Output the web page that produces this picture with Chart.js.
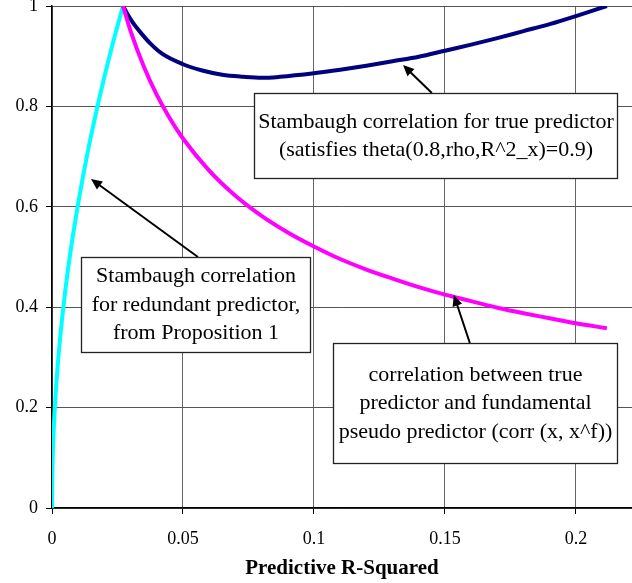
<!DOCTYPE html>
<html>
<head>
<meta charset="utf-8">
<script src="https://cdn.jsdelivr.net/npm/chart.js@4.4.0/dist/chart.umd.min.js"></script>
<style>
  body { margin: 0; background: #fff; }
  #chart { display: block; }
</style>
</head>
<body>
<canvas id="chart" width="632" height="583"></canvas>
<script>
// Stambaugh correlation for redundant predictor (cyan)
const redundantX = [0, 0.0002, 0.0005, 0.001, 0.002, 0.003, 0.004, 0.005, 0.0065, 0.008, 0.01, 0.012, 0.014, 0.016, 0.018, 0.02, 0.022, 0.024, 0.026, 0.0271];
const redundantY = [0, 0.086, 0.136, 0.192, 0.272, 0.333, 0.384, 0.430, 0.490, 0.543, 0.607, 0.665, 0.719, 0.768, 0.815, 0.859, 0.901, 0.941, 0.979, 1];

// corr(x, x^f) (magenta)
const pseudoX = [0.0271, 0.03, 0.035, 0.04, 0.045, 0.05, 0.06, 0.07, 0.08, 0.09, 0.1, 0.11, 0.12, 0.13, 0.14, 0.15, 0.16, 0.17, 0.18, 0.19, 0.2, 0.2118];
const pseudoY = [1, 0.950, 0.880, 0.823, 0.776, 0.736, 0.672, 0.622, 0.582, 0.549, 0.521, 0.496, 0.475, 0.457, 0.440, 0.425, 0.412, 0.399, 0.388, 0.378, 0.368, 0.358];

// Stambaugh correlation for true predictor (navy)
const trueX = [0.0271, 0.029, 0.031, 0.034, 0.0374, 0.042, 0.05, 0.057, 0.065, 0.073, 0.08, 0.087, 0.1, 0.11, 0.12, 0.13, 0.14, 0.15, 0.16, 0.17, 0.18, 0.19, 0.2, 0.2118];
const trueY = [1, 0.982, 0.966, 0.946, 0.926, 0.905, 0.884, 0.872, 0.863, 0.859, 0.857, 0.859, 0.866, 0.873, 0.881, 0.890, 0.899, 0.911, 0.923, 0.936, 0.950, 0.964, 0.980, 1];

const xTicks = [0, 0.05, 0.1, 0.15, 0.2];
const yTicks = [0, 0.2, 0.4, 0.6, 0.8, 1];

const toPoints = (xs, ys) => xs.map((x, i) => ({ x: x, y: ys[i] }));

// text boxes with arrows, given in data units
const notes = [
  {
    box: [0.0771, 0.8267, 0.2156, 0.657],
    lines: ['Stambaugh correlation for true predictor', '(satisfies theta(0.8,rho,R^2_x)=0.9)'],
    from: [0.1450, 0.8267], to: [0.1340, 0.8825]
  },
  {
    box: [0.0111, 0.5, 0.0985, 0.3108],
    lines: ['Stambaugh correlation', 'for redundant predictor,', 'from Proposition 1'],
    from: [0.0557, 0.5], to: [0.01489, 0.6554]
  },
  {
    box: [0.1073, 0.3287, 0.2156, 0.0896],
    lines: ['correlation between true', 'predictor and fundamental', 'pseudo predictor (corr (x, x^f))'],
    from: [0.1595, 0.3287], to: [0.1534, 0.4243]
  }
];

const notesPlugin = {
  id: 'notes',
  afterDatasetsDraw(chart) {
    const ctx = chart.ctx;
    const xs = chart.scales.x, ys = chart.scales.y;
    ctx.save();
    notes.forEach(function(n) {
      // arrow
      const x0 = xs.getPixelForValue(n.from[0]), y0 = ys.getPixelForValue(n.from[1]);
      const x1 = xs.getPixelForValue(n.to[0]), y1 = ys.getPixelForValue(n.to[1]);
      const ang = Math.atan2(y1 - y0, x1 - x0);
      ctx.strokeStyle = '#000';
      ctx.fillStyle = '#000';
      ctx.lineWidth = 2;
      ctx.beginPath();
      ctx.moveTo(x0, y0);
      ctx.lineTo(x1 - 6 * Math.cos(ang), y1 - 6 * Math.sin(ang));
      ctx.stroke();
      ctx.beginPath();
      ctx.moveTo(x1, y1);
      ctx.lineTo(x1 - 11 * Math.cos(ang) + 5 * Math.sin(ang), y1 - 11 * Math.sin(ang) - 5 * Math.cos(ang));
      ctx.lineTo(x1 - 11 * Math.cos(ang) - 5 * Math.sin(ang), y1 - 11 * Math.sin(ang) + 5 * Math.cos(ang));
      ctx.closePath();
      ctx.fill();

      // box
      const bl = Math.round(xs.getPixelForValue(n.box[0])) + 0.5;
      const bt = Math.round(ys.getPixelForValue(n.box[1])) + 0.5;
      const br = Math.round(xs.getPixelForValue(n.box[2])) + 0.5;
      const bb = Math.round(ys.getPixelForValue(n.box[3])) + 0.5;
      ctx.fillStyle = '#fff';
      ctx.fillRect(bl, bt, br - bl, bb - bt);
      ctx.strokeStyle = '#222';
      ctx.lineWidth = 1.3;
      ctx.strokeRect(bl, bt, br - bl, bb - bt);

      // text
      ctx.fillStyle = '#000';
      ctx.font = '22px "Liberation Serif", "Times New Roman", serif';
      ctx.textAlign = 'center';
      ctx.textBaseline = 'middle';
      const lh = 28.5;
      const cx = (bl + br) / 2, cy = (bt + bb) / 2;
      n.lines.forEach(function(t, i) {
        ctx.fillText(t, cx, cy + (i - (n.lines.length - 1) / 2) * lh);
      });
    });
    ctx.restore();
  }
};

const serif = '"Liberation Serif", "Times New Roman", serif';

function noPadding(scale) {
  scale.paddingTop = 0;
  scale.paddingBottom = 0;
  scale.paddingLeft = 0;
  scale.paddingRight = 0;
}

new Chart(document.getElementById('chart'), {
  type: 'scatter',
  data: {
    datasets: [
      {
        label: 'corr (x, x^f)',
        data: toPoints(pseudoX, pseudoY),
        showLine: true,
        borderColor: '#ff00ff',
        borderWidth: 4,
        pointRadius: 0,
        cubicInterpolationMode: 'monotone'
      },
      {
        label: 'Stambaugh correlation for true predictor',
        data: toPoints(trueX, trueY),
        showLine: true,
        borderColor: '#000080',
        borderWidth: 4,
        pointRadius: 0,
        cubicInterpolationMode: 'monotone'
      },
      {
        label: 'Stambaugh correlation for redundant predictor',
        data: toPoints(redundantX, redundantY),
        showLine: true,
        borderColor: '#00ffff',
        borderWidth: 4,
        pointRadius: 0,
        cubicInterpolationMode: 'monotone'
      }
    ]
  },
  options: {
    responsive: false,
    animation: false,
    devicePixelRatio: 1,
    layout: { padding: { top: 6, right: 0, left: 0, bottom: 0 } },
    plugins: {
      legend: { display: false },
      tooltip: { enabled: false }
    },
    scales: {
      x: {
        type: 'linear',
        min: 0,
        max: 0.2214,
        afterFit: function(scale) { scale.height = 75; noPadding(scale); },
        afterBuildTicks: function(scale) { scale.ticks = xTicks.map(v => ({ value: v })); },
        ticks: {
          color: '#000',
          font: { family: serif, size: 18 },
          padding: 14,
          maxRotation: 0,
          callback: v => String(Number(v.toFixed(2)))
        },
        grid: { color: '#666', lineWidth: 1, tickLength: 6, tickColor: '#000' },
        border: { color: '#000', width: 1.5 },
        title: {
          display: true,
          text: 'Predictive R-Squared',
          color: '#000',
          font: { family: serif, size: 21, weight: 'bold' },
          padding: { top: 0, bottom: 2 }
        }
      },
      y: {
        type: 'linear',
        min: 0,
        max: 1,
        afterFit: function(scale) { scale.width = 52; noPadding(scale); },
        afterBuildTicks: function(scale) { scale.ticks = yTicks.map(v => ({ value: v })); },
        ticks: {
          color: '#000',
          font: { family: serif, size: 18 },
          padding: 8,
          callback: v => String(Number(v.toFixed(1)))
        },
        grid: { color: '#555', lineWidth: 1, tickLength: 6, tickColor: '#000' },
        border: { color: '#000', width: 1.5 }
      }
    }
  },
  plugins: [notesPlugin]
});
</script>
</body>
</html>
